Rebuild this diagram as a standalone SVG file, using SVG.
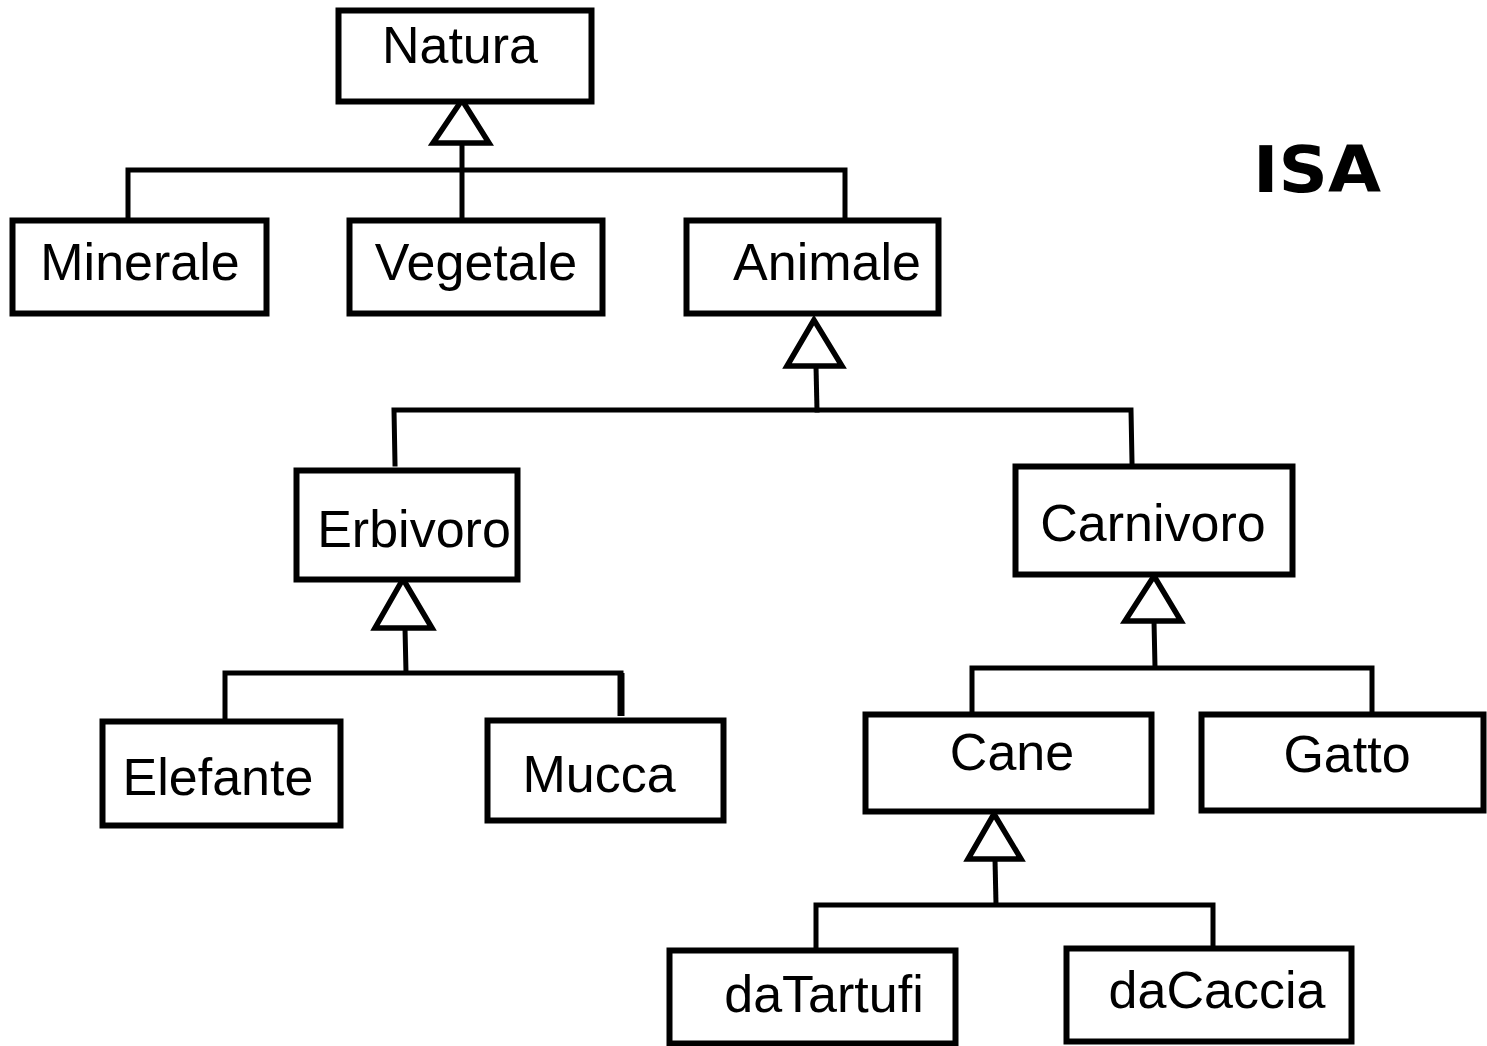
<svg xmlns="http://www.w3.org/2000/svg" width="1487" height="1046" viewBox="0 0 1487 1046">
  <style>
    .box { fill: #ffffff; stroke: #000000; stroke-width: 6; }
    .lbl { font-family: "Liberation Sans", Arial, sans-serif; font-size: 52px; fill: #000000; text-anchor: middle; }
    .wire { fill: none; stroke: #000000; stroke-width: 5; stroke-linecap: square; }
    .tri { fill: #ffffff; stroke: #000000; stroke-width: 5.5; stroke-linejoin: miter; }
    .title { font-family: "DejaVu Sans", Verdana, sans-serif; font-weight: bold; font-size: 64px; fill: #000000; text-anchor: middle; }
  </style>
  <rect width="1487" height="1046" fill="#ffffff"/>

  <!-- inheritance connectors: trunks, bars, drops and hollow triangles -->
  <g id="connectors">
    <!-- Natura -> Minerale / Vegetale / Animale -->
    <polyline class="wire" points="462,143 462,216"/>
    <polyline class="wire" points="128,216 128,170 845,170 845,216"/>
    <polygon class="tri" points="462,100 433,143 489,143"/>

    <!-- Animale -> Erbivoro / Carnivoro -->
    <polyline class="wire" points="816,366 817,410"/>
    <polyline class="wire" points="395,464 394,410 1131,410 1132,462"/>
    <polygon class="tri" points="814,320 787,366 842,366"/>

    <!-- Erbivoro -> Elefante / Mucca -->
    <polyline class="wire" points="405,628 406,672"/>
    <polyline class="wire" points="225,717 225,673 621,673"/>
    <line x1="621" y1="673" x2="621" y2="716" stroke="#000000" stroke-width="7"/>
    <polygon class="tri" points="403,579 375,628 432,628"/>

    <!-- Carnivoro -> Cane / Gatto -->
    <polyline class="wire" points="1154,621 1155,667"/>
    <polyline class="wire" points="972,710 972,668 1372,668 1372,710"/>
    <polygon class="tri" points="1154,576 1125,621 1181,621"/>

    <!-- Cane -> daTartufi / daCaccia -->
    <polyline class="wire" points="995,859 996,904"/>
    <polyline class="wire" points="816,946 816,905 1213,905 1213,945"/>
    <polygon class="tri" points="994,814 968,859 1021,859"/>
  </g>

  <g id="natura">
    <rect class="box" x="338.5" y="10.5" width="253" height="91"/>
    <text class="lbl" x="460" y="63">Natura</text>
  </g>
  <g id="minerale">
    <rect class="box" x="12.5" y="220.5" width="254" height="93"/>
    <text class="lbl" x="140" y="280">Minerale</text>
  </g>
  <g id="vegetale">
    <rect class="box" x="349.5" y="220.5" width="253" height="93"/>
    <text class="lbl" x="476" y="280">Vegetale</text>
  </g>
  <g id="animale">
    <rect class="box" x="686.5" y="220.5" width="252" height="93"/>
    <text class="lbl" x="827" y="280">Animale</text>
  </g>
  <g id="erbivoro">
    <rect class="box" x="296.5" y="470.5" width="221" height="109"/>
    <text class="lbl" x="414" y="547">Erbivoro</text>
  </g>
  <g id="carnivoro">
    <rect class="box" x="1015.5" y="466.5" width="277" height="108"/>
    <text class="lbl" x="1153" y="541">Carnivoro</text>
  </g>
  <g id="elefante">
    <rect class="box" x="102.5" y="721.5" width="238" height="104"/>
    <text class="lbl" x="218" y="795">Elefante</text>
  </g>
  <g id="mucca">
    <rect class="box" x="487.5" y="720.5" width="236" height="100"/>
    <text class="lbl" x="599" y="792">Mucca</text>
  </g>
  <g id="cane">
    <rect class="box" x="865.5" y="714.5" width="286" height="97"/>
    <text class="lbl" x="1012" y="770">Cane</text>
  </g>
  <g id="gatto">
    <rect class="box" x="1201.5" y="714.5" width="282" height="96"/>
    <text class="lbl" x="1347" y="772">Gatto</text>
  </g>
  <g id="daTartufi">
    <rect class="box" x="669.5" y="950.5" width="286" height="93"/>
    <text class="lbl" x="824" y="1012">daTartufi</text>
  </g>
  <g id="daCaccia">
    <rect class="box" x="1066.5" y="948.5" width="285" height="93"/>
    <text class="lbl" x="1217" y="1008">daCaccia</text>
  </g>

  <g id="isa-title">
    <text class="title" x="1317" y="192" textLength="128" lengthAdjust="spacingAndGlyphs">ISA</text>
  </g>
</svg>
